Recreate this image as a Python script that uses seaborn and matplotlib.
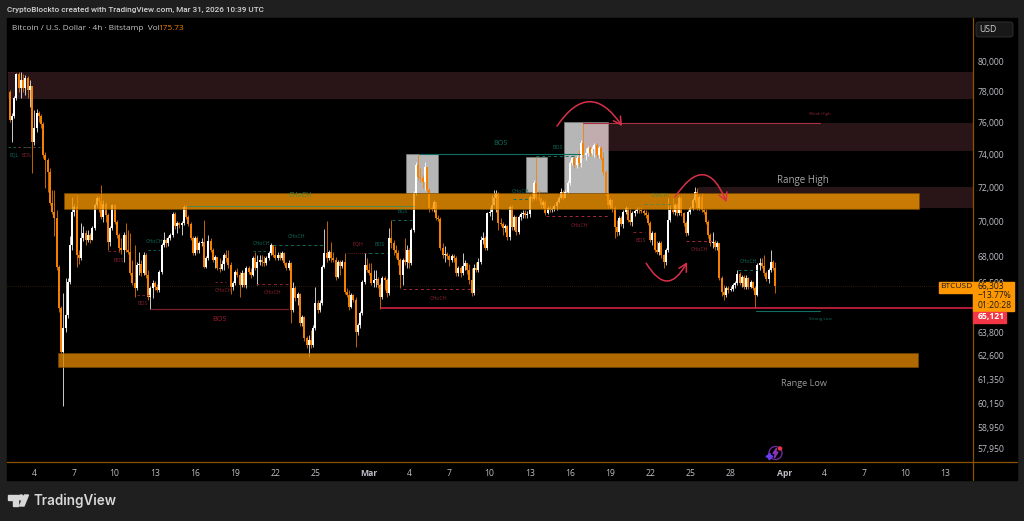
import numpy as np
import pandas as pd
import seaborn as sns
import matplotlib.pyplot as plt
from matplotlib.lines import Line2D
from matplotlib.patches import Circle, FancyBboxPatch, Polygon, Rectangle
from matplotlib.ticker import NullLocator
from matplotlib.transforms import Affine2D

# BTCUSD 4h candles, first one is Feb 2 04:00, open = previous close
first_open = 77950
closes = [
    76160,76420,77570,79130,78210,78740,78210,78870,78080,78350,
    74780,75660,76610,76420,75910,73970,73660,72930,71070,70540,
    70190,67380,65120,62770,64040,64740,66540,68620,70540,70840,
    68050,67880,69030,69320,68910,69200,68910,69610,70960,71370,
    71190,70250,71010,70370,68800,69610,70960,69950,69200,68450,
    68340,69200,68340,68220,67040,66480,66210,67490,67550,67040,
    68050,66930,65710,66210,66480,66260,66100,67100,68620,68910,
    68740,69030,69200,70430,69720,69900,69780,69900,70840,70250,
    69840,69030,68170,69030,68340,68740,68800,67380,67880,68850,
    68340,67770,67940,67320,67270,67550,68050,67880,67490,66260,
    66480,67100,66930,66370,67040,66370,67320,67100,66930,67880,
    67320,67660,67770,67660,67600,67880,68170,68620,68050,67880,
    68050,67880,68170,67600,67320,67600,65010,66210,65660,65880,
    64310,64630,63510,63140,63400,63140,64040,65390,65010,65390,
    67380,68170,67880,68220,67880,67770,66820,67660,67430,67660,
    65990,65820,65170,65820,65550,63830,64200,64850,66540,67490,
    67210,67040,66480,66650,66710,66370,65710,66760,66650,65930,
    69030,68740,68340,68170,67770,66930,67770,67660,68340,67600,
    69490,71670,73360,72630,72570,72330,73230,71850,70780,70720,
    71130,70190,70130,68450,68050,68110,68000,67770,68000,67880,
    67040,67320,67040,67430,67600,67210,66650,65930,67320,67210,
    67660,68910,69030,68450,70480,70540,70960,71370,71670,69900,
    69840,69610,69720,69080,70840,69660,70250,69370,70250,70430,
    70480,70370,70430,71430,71310,72270,71370,71310,70960,71130,
    70480,70780,70660,70720,70900,71130,71370,71730,71370,71730,
    72270,73480,73790,73360,73790,73480,74710,73970,74090,74400,
    74090,74340,74590,73970,74400,73790,72930,71670,70960,71250,
    70780,69660,69370,70190,69840,70540,70780,70070,69950,70480,
    70600,70720,70660,70600,70480,70370,69900,68910,69320,68340,
    68220,68740,68050,67660,68340,70070,70660,70540,70960,70480,
    71370,70480,69900,69320,70540,70780,71250,71730,70780,71430,
    70660,70540,69950,69200,68740,68800,68510,68740,66760,65990,
    65820,66210,66100,66150,66370,66480,66990,66480,66820,66260,
    66760,66260,66540,66210,65820,67490,67600,67430,67040,66710,
    67210,67660,67320,66303,
]
highs = [
    78080,76610,77700,79200,79280,79280,79130,79070,79000,78740,
    78210,76800,76860,76740,76540,76030,74160,73790,73170,71850,
    71850,70660,67490,65230,65930,66760,66760,69140,71430,71010,
    71550,68340,69900,69720,69490,69490,69320,69720,71070,71490,
    71490,72150,71250,71130,70480,69720,71010,71010,70070,69320,
    69030,69370,69900,69490,69320,67770,68620,67660,68220,67770,
    68220,68170,67210,66320,66650,66600,66430,67210,68740,69370,
    69030,69140,69320,70540,70540,70010,69950,70010,70960,70960,
    70370,69950,69140,69140,69140,68850,69030,70070,68000,69200,
    69030,68450,68050,67880,67880,67770,68170,68340,68340,67660,
    66600,67210,67320,67100,67210,67100,67430,67430,67320,68000,
    68220,68050,68050,68050,68000,68000,68280,68740,68620,68570,
    68220,68220,68280,68220,67660,67770,67660,66540,66320,65990,
    65930,64740,64680,63620,63670,63940,64200,66260,65550,65550,
    67490,69550,70010,68340,68800,68220,67940,67770,67770,67770,
    68170,66210,66100,65930,65880,65710,64310,64960,66650,68170,
    67880,67600,67600,67210,67210,66820,66480,66880,66880,66760,
    69610,70070,68910,68620,68340,67880,67880,69030,68620,68450,
    69610,71790,73540,74030,73170,72750,73540,73050,71970,70960,
    71250,71130,70370,70250,68740,68570,68220,68110,68110,68110,
    68000,67430,67430,68170,67770,67600,67550,67320,67550,67660,
    67880,69140,69370,69140,70540,70840,71550,71850,71850,71730,
    70190,69950,69840,69780,70960,70960,70370,70310,70370,70540,
    70660,70660,70600,71550,71730,72450,73850,71850,71430,71250,
    71250,70900,70900,70840,71010,71250,71490,71970,71850,71850,
    72450,73660,73910,73910,73970,74280,74900,75970,74400,74530,
    74530,74530,74710,74710,74530,74530,74160,73050,71730,71370,
    71310,70900,70070,70310,70310,70660,70900,70840,70780,70600,
    70720,70840,70840,70840,70720,70660,70540,70010,69430,69370,
    68850,68850,68850,68110,68450,71370,70960,71370,71070,71070,
    71490,71490,70540,70010,70660,70900,71370,72030,71970,71550,
    71670,70780,70720,70070,69320,69370,68910,68850,68740,66880,
    66370,66320,66320,66320,66480,66600,67210,67100,66930,66930,
    66930,66820,66650,66600,66320,67600,67880,67880,68050,67150,
    67320,68340,67770,67660,
]
lows = [
    76030,74780,76290,77440,77950,77570,77950,77760,77570,76990,
    72870,74590,75410,76030,75660,73790,71970,71730,70960,70430,
    69140,67210,64900,62660,60010,63830,64580,66430,68340,70310,
    67380,67550,67770,68850,68620,68800,68740,68910,69490,70840,
    70540,70130,69950,69950,68340,68570,69490,69840,69030,68220,
    68110,67660,68220,68110,66930,66370,65710,66100,66930,66880,
    66930,66760,65550,65060,65660,66100,65990,65990,66990,68510,
    68510,68570,68910,69080,69550,69320,69610,69200,69780,70130,
    69720,68910,68050,68050,68170,68170,68570,67320,67320,67770,
    68220,67660,67320,67210,67100,67210,67210,67660,67320,65880,
    66100,66370,66820,65710,66260,66260,66210,66990,66760,66880,
    67210,66370,67490,67430,67430,67490,67770,68050,67940,67770,
    67770,67770,67770,67490,67210,67210,64310,64900,65500,65280,
    64150,64150,63350,62980,62510,62980,63030,63940,64850,64900,
    65280,67320,67660,67770,67660,67660,66650,66760,66930,67320,
    65880,65710,65010,65120,65440,63030,63670,64040,64740,66430,
    67100,66930,66370,66260,66260,66210,65060,65610,66100,65710,
    65820,68450,68050,67880,67490,66210,66370,67490,67320,67320,
    67490,69370,71550,72450,72330,71970,71850,71730,70540,70600,
    70540,70070,70010,68340,67880,67660,67830,67430,67660,67660,
    66880,66880,66820,66930,67210,66990,66430,65770,65820,67100,
    67100,67550,68680,68340,68340,70310,70070,70960,70540,69490,
    69720,69200,69370,68910,68910,69490,69490,69200,69260,70070,
    70190,70190,70190,70250,71130,71250,71250,71190,70780,70780,
    70370,70430,70540,70540,70600,70660,71070,71310,71250,71370,
    71670,72150,73360,73170,73170,73290,73230,73790,73660,73910,
    73910,73970,73850,73790,73790,73660,72750,71490,70780,70780,
    70540,69030,69140,69200,69720,69610,70430,69950,69780,69720,
    70310,70480,70480,70480,70370,70190,69780,68800,68620,68220,
    68110,68050,67880,67320,67490,68220,69950,70430,70370,70310,
    70370,70310,69720,69140,69200,70430,70660,71130,70660,70660,
    70540,70430,69840,69030,68570,68450,68340,68340,66650,65770,
    65550,65710,65930,66040,66040,66210,66370,66370,66260,66150,
    66150,66150,66210,66100,65120,65770,67210,67320,66880,66600,
    66480,67100,67210,65930,
]

# x axis: days counted from Feb 4
date_ticks = [0, 3, 6, 9, 12, 15, 18, 21, 25, 28, 31, 34, 37, 40, 43, 46, 49, 52, 56, 59, 62, 65, 68]
date_labels = ["4", "7", "10", "13", "16", "19", "22", "25", "Mar", "4", "7", "10", "13", "16",
               "19", "22", "25", "28", "Apr", "4", "7", "10", "13"]
price_ticks = [80000, 78000, 76000, 74000, 72000, 70000, 68000, 66500, 63800, 62600, 61350, 60150, 58950, 57950]

MAROON = "#f8808c"
ORANGE = "#f57f00"
TEAL = "#0e6f5e"
GREEN = "#3f8a45"
RED = "#8c2233"
TEXT = "#bcbec6"

# supply zones and range bands: day from, day to, price low, price high
maroon_zones = [(-2.0, 70.2, 77510, 79280), (40.98, 70.2, 74220, 75970), (49.57, 70.2, 70780, 72030)]
grey_boxes = [(27.74, 30.13, 71670, 74030), (36.72, 38.27, 71730, 73870), (39.58, 42.82, 71670, 76030)]
range_bands = [(2.22, 66.1, 70720, 71670, "#f29400"), (1.77, 65.96, 62010, 62740, "#dc8400")]

# structure lines: day from, day to, price, colour, width, style
structure = [
    (-1.96, 0.43, 74490, TEAL, 0.6, (0, (3, 3))),
    (-1.2, 0.43, 74490, RED, 0.6, (0, (3, 6))),
    (-1.96, -1.5, 79280, RED, 0.6, (0, (1, 2))),
    (7.67, 8.64, 65820, RED, 0.6, (0, (3, 3))),
    (5.5, 6.4, 68290, RED, 0.6, (0, (3, 3))),
    (8.49, 9.39, 68340, TEAL, 0.6, (0, (3, 3))),
    (11.4, 28.3, 70910, "#4f8a4c", 0.7, "-"),
    (16.33, 17.38, 68290, TEAL, 0.6, (0, (3, 3))),
    (17.83, 21.56, 68650, TEAL, 0.7, (0, (3, 3))),
    (13.5, 14.3, 66550, RED, 0.6, (0, (3, 3))),
    (16.56, 18.95, 66430, RED, 0.7, (0, (3, 3))),
    (8.7, 18.95, 65070, "#7a1f2e", 0.9, "-"),
    (23.35, 25.0, 68170, RED, 0.6, (0, (1, 1.5))),
    (25.0, 26.34, 68170, TEAL, 0.7, (0, (3, 3))),
    (26.7, 28.2, 70070, TEAL, 0.7, (0, (3, 3))),
    (28.7, 40.75, 74030, TEAL, 0.8, "-"),
    (27.5, 32.8, 66150, "#a82a3c", 0.7, (0, (3, 3))),
    (35.75, 37.0, 71310, TEAL, 0.7, (0, (3, 3))),
    (37.5, 40.4, 73900, TEAL, 0.7, (0, (3, 3))),
    (38.2, 42.85, 70300, "#a82a3c", 0.7, (0, (3, 3))),
    (44.7, 45.6, 69370, RED, 0.7, (0, (3, 3))),
    (45.5, 47.5, 71020, "#4f8a4c", 0.7, (0, (3, 3))),
    (48.7, 50.6, 68850, "#a82a3c", 0.7, (0, (3, 3))),
    (52.55, 54.0, 67210, TEAL, 0.7, (0, (3, 3))),
    (40.98, 58.7, 75970, "#a83246", 0.8, "-"),
    (53.9, 58.7, 64960, TEAL, 0.8, "-"),
    (25.9, 70.2, 65121, "#cf2440", 1.2, "-"),
]

# small structure labels: text, day, price, colour, size
labels = [
    ("CHoCH", 9.0, 68850, TEAL, 3.8), ("BOS", 6.3, 67770, RED, 3.8), ("BOS", 8.1, 65390, RED, 3.8),
    ("BOS", 13.8, 64520, "#a01c30", 5.2), ("CHoCH", 19.6, 69140, TEAL, 3.8), ("CHoCH", 17.0, 68740, TEAL, 3.8),
    ("CHoCH", 14.1, 66100, RED, 3.8), ("CHoCH", 17.8, 65990, RED, 3.8), ("CHoCH", 19.85, 71550, GREEN, 5.0),
    ("EQL", -1.5, 73970, TEAL, 3.6), ("BOS", -0.6, 73970, RED, 3.6), ("EQH", 24.2, 68680, RED, 3.8),
    ("BOS", 25.8, 68680, TEAL, 3.8), ("BOS", 27.5, 70600, TEAL, 3.8), ("BOS", 34.8, 74710, TEAL, 5.2),
    ("BOS", 39.1, 74470, TEAL, 3.8), ("CHoCH", 36.3, 71790, TEAL, 3.8), ("CHoCH", 40.7, 69780, RED, 3.8),
    ("CHoCH", 30.15, 65660, RED, 3.8), ("BOS", 45.3, 68910, RED, 3.8), ("CHoCH", 46.7, 71550, GREEN, 3.8),
    ("CHoCH", 49.7, 68400, RED, 3.8), ("CHoCH", 53.3, 67710, TEAL, 3.8), ("Weak High", 58.7, 76540, RED, 3.2),
    ("Strong Low", 58.7, 64520, TEAL, 3.2), ("Range High", 57.4, 72450, "#a8a8a8", 7.0),
    ("Range Low", 57.5, 61180, "#9a9a9a", 6.6),
]

# hand drawn arrows: day/price start, day/price end, curvature
arrows = [
    (39.04, 75780, 43.9, 75780, -0.74),
    (47.85, 71430, 51.7, 71130, -0.95),
    (45.7, 67600, 48.75, 67660, 0.88),
]

n = len(closes)
days = np.arange(n) / 6 - 44 / 24
opens = [first_open] + closes[:-1]
side = ["up" if c >= o else "down" for c, o in zip(closes, opens)]
candles = pd.DataFrame({"candle": range(n), "day": days, "open": opens, "close": closes,
                        "high": highs, "low": lows, "side": side})
wicks = candles.melt(id_vars=["candle", "day", "side"], value_vars=["high", "low"], value_name="price")
bodies = candles.melt(id_vars=["candle", "day", "side"], value_vars=["open", "close"], value_name="price")
palette = {"up": "#ffffff", "down": ORANGE}

sns.set_theme(style="dark")
plt.rcParams["font.family"] = ["Open Sans", "DejaVu Sans"]

W, H = 1024, 521
fig = plt.figure(figsize=(W / 100, H / 100), dpi=100, facecolor="#1f1f1f")
px = Affine2D().scale(1, -1).translate(0, H)  # frame and badges are placed in picture pixels

fig.add_artist(Rectangle((7, 18), 1010, 462, color="black", transform=px, zorder=-1))

ax = fig.add_axes([7 / W, 1 - 462 / H, 966 / W, 444 / H], facecolor="black")
ax.set_yscale("log")

# zones sit behind the candles, range bands on top of them
for d0, d1, p0, p1 in maroon_zones:
    ax.fill_between([d0, d1], p0, p1, color=MAROON, alpha=0.17, lw=0, zorder=1.5)
for d0, d1, p0, p1 in grey_boxes:
    ax.fill_between([d0, d1], p0, p1, facecolor="#b6b6b6", edgecolor="#7f7f7f", lw=0.5, zorder=1)
ax.axhline(66303, color="#5a3410", lw=0.5, ls=(0, (1, 2)), zorder=1)

sns.lineplot(data=wicks, x="day", y="price", units="candle", estimator=None, hue="side", palette=palette,
             legend=False, linewidth=0.55, solid_capstyle="butt", zorder=2, ax=ax)
sns.lineplot(data=bodies, x="day", y="price", units="candle", estimator=None, hue="side", palette=palette,
             legend=False, linewidth=1.45, solid_capstyle="butt", zorder=2.1, ax=ax)

for d0, d1, p0, p1, col in range_bands:
    ax.fill_between([d0, d1], p0, p1, facecolor=col, edgecolor="#7a4a00", lw=0.5, alpha=0.8, zorder=3)

for d0, d1, price, col, lw, ls in structure:
    ax.plot([d0, d1], [price, price], color=col, lw=lw, ls=ls, zorder=4)
for txt, d, price, col, size in labels:
    ax.text(d, price, txt, color=col, fontsize=size, ha="center", va="center", zorder=5)

for d0, p0, d1, p1, rad in arrows:
    ax.annotate("", xy=(d1, p1), xytext=(d0, p0), zorder=6,
                arrowprops=dict(arrowstyle="->,head_length=0.55,head_width=0.3", color="#d9304a", lw=1.1,
                                connectionstyle=f"arc3,rad={rad}", shrinkA=0, shrinkB=0, mutation_scale=10))

ax.set_xlim(-27.3 / 13.39, 938.7 / 13.39)
ax.set_ylim(57285, 82919)
ax.yaxis.set_minor_locator(NullLocator())
ax.yaxis.tick_right()
ax.set_yticks(price_ticks)
ax.set_yticklabels([f"{v:,}" for v in price_ticks])
ax.set_xticks(date_ticks)
ax.set_xticklabels(date_labels)
ax.tick_params(axis="both", which="both", length=0, labelsize=6.2, labelcolor=TEXT)
ax.tick_params(axis="x", pad=5)
ax.tick_params(axis="y", pad=3.5)
for tick in ax.get_xticklabels():
    if tick.get_text() in ("Mar", "Apr"):
        tick.set_fontweight("bold")
ax.set_xlabel("")
ax.set_ylabel("")
ax.grid(False)
for name in ("top", "left"):
    ax.spines[name].set_visible(False)
for name in ("bottom", "right"):
    ax.spines[name].set_color("#8a5200")
    ax.spines[name].set_linewidth(0.9)

# frame pieces outside the plot area
fig.add_artist(Line2D([973, 973], [462, 480], color="#8a5200", lw=0.9, transform=px))
fig.add_artist(Line2D([973, 1017], [462, 462], color="#8a5200", lw=0.9, transform=px))
fig.add_artist(FancyBboxPatch((976, 22), 37, 15, boxstyle="round,pad=0,rounding_size=2.5",
                              fc="#181818", ec="#333333", lw=0.6, transform=px))
fig.text(988, 29.5, "USD", color="#d0d0d0", fontsize=6.2, ha="center", va="center", transform=px)

fig.text(7, 9.5, "CryptoBlockto created with TradingView.com, Mar 31, 2026 10:39 UTC", color="#d4d4d4",
         fontsize=5.9, fontfamily="Roboto", fontweight="medium", va="center", transform=px)
fig.text(12, 28, "Bitcoin / U.S. Dollar · 4h · Bitstamp  Vol", color="#c8c8c8", fontsize=5.95,
         va="center", transform=px)
fig.text(158.5, 28, "175.73", color=ORANGE, fontsize=5.95, va="center", transform=px)

# last price badges
fig.add_artist(Rectangle((939, 281.7), 34, 11, color="#ff9800", transform=px))
fig.add_artist(Rectangle((973, 281.7), 41, 29, color="#ff9800", transform=px))
fig.add_artist(Rectangle((973, 311.7), 33, 11, color="#f23645", transform=px))
fig.text(956, 287, "BTCUSD", color="#1a1a1a", fontsize=6.0, ha="center", va="center", transform=px)
fig.text(978, 286.5, "66,303", color="#1a1a1a", fontsize=6.2, va="center", transform=px)
fig.text(978, 296, "−13.77%", color="#1a1a1a", fontsize=6.2, va="center", transform=px)
fig.text(978, 305.5, "01:20:28", color="#1a1a1a", fontsize=6.2, va="center", transform=px)
fig.text(978, 317, "65,121", color="white", fontsize=6.2, fontweight="bold", va="center", transform=px)

# assistant badge
fig.add_artist(Circle((775.5, 453), 6.5, fc="none", ec="#6d2a9c", lw=1.0, transform=px))
fig.add_artist(Polygon([(776.5, 448.5), (773, 453.5), (775.5, 453.5), (774.5, 457.5), (778, 452), (775.5, 452)],
                       color="#8a35b8", transform=px))
fig.add_artist(Circle((780, 448.5), 1.5, color="#f23645", transform=px))
fig.add_artist(Line2D([768.5], [455.5], marker=(4, 1, 0), ms=5, color="#6a3df0", lw=0, transform=px))

# footer logo
logo = "#d8d8d8"
fig.add_artist(Polygon([(8, 495), (18, 495), (18, 506), (13, 506), (13, 500), (8, 500)], color=logo, transform=px))
fig.add_artist(Circle((21, 497.5), 2.5, color=logo, transform=px))
fig.add_artist(Polygon([(24.5, 495), (28.5, 495), (24, 506), (19.5, 506)], color=logo, transform=px))
fig.text(33, 500.5, "TradingView", color=logo, fontsize=9.7, fontfamily="Inter", fontweight="semibold",
         va="center", transform=px)

fig.savefig("out.png", dpi=100, facecolor=fig.get_facecolor())
